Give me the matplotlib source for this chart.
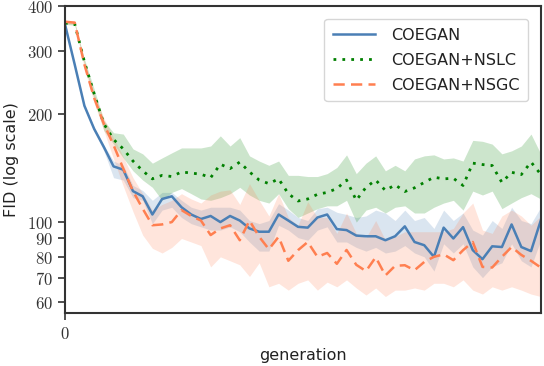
import matplotlib
matplotlib.use("Agg")
import matplotlib.pyplot as plt
from matplotlib.ticker import FixedLocator, FixedFormatter, NullLocator
import numpy as np

plt.rcParams['mathtext.fontset'] = 'cm'
plt.rcParams['font.family'] = ['DejaVu Sans']

generations = list(range(50))

coegan = [356, 275, 211, 182, 162, 143, 140, 122, 118, 105,
          116, 118, 110, 105, 102, 104, 100, 104, 101, 96,
          94, 94, 105, 101, 97, 96.5, 103, 105, 95.6, 95,
          91.7, 91.3, 91.3, 89, 91.3, 97.3, 88, 86.2, 80, 96.5,
          90, 96.8, 83.5, 78.8, 85.6, 85.2, 98.5, 85.2, 83, 101]
coegan_lo = [352, 272, 208, 179, 158, 133, 131, 117, 115, 99,
             108, 110, 103, 99, 97, 95, 95, 97, 94, 88,
             83, 83, 98, 95, 90.5, 89, 95, 97, 88, 88,
             85, 83, 85, 82, 83, 86, 82, 80, 73, 87,
             82, 87, 75, 70, 75, 77, 87, 78, 75, 89]
coegan_hi = [360, 277, 213, 184, 164, 148, 144, 126.5, 122.5, 115,
             121, 121, 115, 110, 108, 110, 110, 110, 108, 101,
             99, 101, 112.5, 108, 103, 101, 109, 110, 106.5, 105,
             103, 104, 108, 106, 101, 108, 101, 103, 96, 108,
             101, 106, 95, 92, 101, 96, 110, 101, 99, 110]

nslc = [359, 357, 280, 228, 188, 170, 160, 148, 139, 132,
        135, 134, 138, 137, 136, 133, 145, 141, 147, 138,
        131, 128, 132, 120, 114.5, 116, 119.5, 121, 124, 131,
        115, 125, 131, 122.5, 127, 121.7, 124.6, 129, 133.4, 132,
        132.5, 126.5, 146, 144.7, 143.8, 129, 137.7, 135.7, 147, 136]
nslc_lo = [356, 354, 275, 220, 180, 165, 151, 139, 131, 125,
           115, 121, 124, 120, 116, 115, 117, 120, 125, 119,
           115, 113, 120, 109, 103, 106, 109, 111, 111, 115,
           100, 108, 110, 106, 110, 111, 106, 106, 110, 113,
           115, 108, 122, 119, 122, 109, 113, 117, 120, 116]
nslc_hi = [362, 360, 285, 235, 192, 177.5, 176, 160, 155, 146,
           151, 156, 161, 161, 161, 163, 174, 163, 172, 153,
           148, 144, 148, 135, 135, 134, 134, 136.5, 142, 154,
           136.5, 146, 153, 139, 144, 139, 150, 153, 154, 150,
           151, 148, 169, 168, 165, 155, 158, 163, 176, 155]

nsgc = [362, 360, 275, 222, 188, 164, 141, 122, 109, 98,
        98.5, 100, 108, 104, 101, 92, 96, 98, 89, 101,
        91, 84, 91, 78, 83.5, 88, 80, 82, 76.5, 83.6,
        76, 73, 79.8, 71, 75.5, 75.8, 73.4, 77.4, 80, 81.3,
        78.3, 83.5, 88, 75, 74.7, 80, 85.2, 81, 78, 74.7]
nsgc_lo = [358, 356, 268, 215, 180, 150, 126, 107, 92, 84.5,
           82, 85, 90, 88, 86, 75, 80, 78, 76, 70.5,
           77, 66, 67.5, 64.6, 67.5, 69, 64.6, 68, 66, 69,
           65.5, 62.6, 65.5, 62, 64.6, 64.6, 65.5, 64.6, 67.5, 67.5,
           66, 69, 64.6, 63, 66, 64.6, 66, 64.6, 63, 62]
nsgc_hi = [366, 364, 280, 228, 195, 172, 152, 133, 120, 108,
           112, 115, 120, 116, 113, 119, 122, 123, 112, 128,
           115, 104, 120, 103, 98, 114, 103, 103, 93, 106,
           93, 90.5, 101, 89, 91, 94, 94, 94, 94, 94,
           96, 106, 113, 95, 93, 104, 108, 104, 98, 104]

ytick_vals = [60, 70, 80, 90, 100, 200, 300, 400]
ytick_labels = ['$60$', '$70$', '$80$', '$90$', '$100$', '$200$', '$300$', '$400$']

c_blue = '#4a7fb5'
c_green = 'green'
c_orange = '#ff7f50'

fig = plt.figure(figsize=(5.44, 3.66), dpi=100)
ax = fig.add_axes([0.1195, 0.145, 0.8745, 0.838])

ax.fill_between(generations, coegan_lo, coegan_hi, color=c_blue, alpha=0.2, linewidth=0)
ax.fill_between(generations, nslc_lo, nslc_hi, color=c_green, alpha=0.2, linewidth=0)
ax.fill_between(generations, nsgc_lo, nsgc_hi, color=c_orange, alpha=0.2, linewidth=0)

ax.plot(generations, coegan, color=c_blue, lw=1.8, label='COEGAN')
ax.plot(generations, nslc, color=c_green, lw=2.0, ls=(0, (1, 2.2)), label='COEGAN+NSLC')
ax.plot(generations, nsgc, color=c_orange, lw=1.8, ls=(0, (4.5, 2.5)), label='COEGAN+NSGC')

ax.set_yscale('log')
ax.set_ylim(55.8, 400)
ax.set_xlim(0, 49)
ax.yaxis.set_major_locator(FixedLocator(ytick_vals))
ax.yaxis.set_major_formatter(FixedFormatter(ytick_labels))
ax.yaxis.set_minor_locator(NullLocator())
ax.set_xticks([0])
ax.set_xticklabels(['$0$'])
ax.tick_params(axis='both', labelsize=12, length=5, width=1.2, colors='#333333', labelcolor='#333333')

for s in ax.spines.values():
    s.set_color('#333333')
    s.set_linewidth(1.5)

ax.set_ylabel('FID (log scale)', fontsize=11.5, color='#222222', labelpad=6)
ax.set_xlabel('generation', fontsize=11.5, color='#222222', labelpad=4)

leg = ax.legend(loc='upper right', fontsize=11.5, handlelength=2.6, handletextpad=1.0,
                frameon=True, fancybox=True, edgecolor='#cccccc', borderpad=0.55,
                labelspacing=0.62, borderaxespad=0.8)
for t in leg.get_texts():
    t.set_color('#222222')

fig.savefig('out.png', dpi=100)
